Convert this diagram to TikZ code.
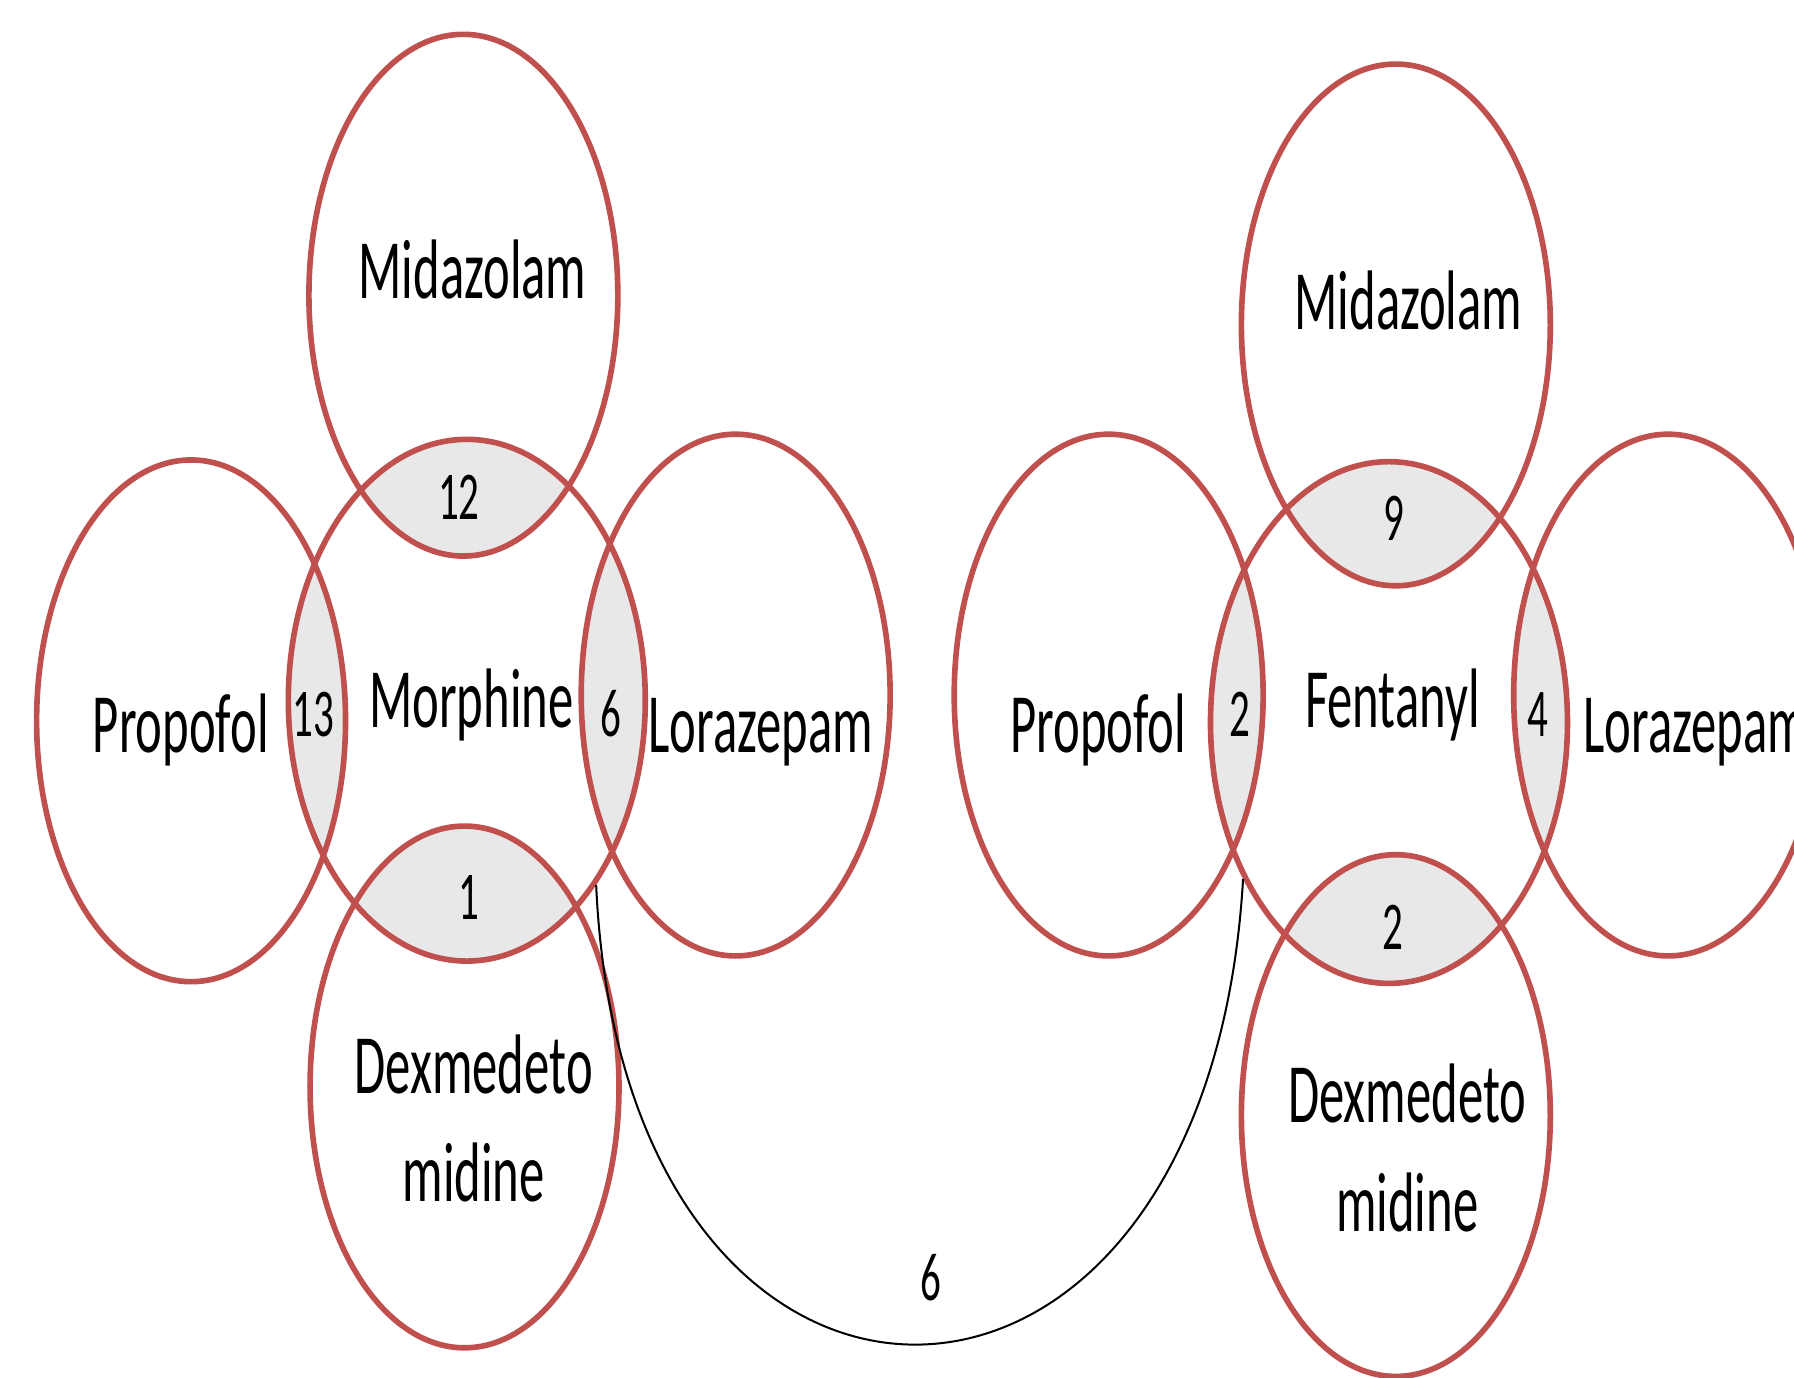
\documentclass[tikz,border=0pt]{standalone}
\usepackage{fontspec}
\setmainfont{Carlito}[FakeStretch=0.6]
\usetikzlibrary{shapes.geometric}
\definecolor{vennred}{RGB}{192,80,77}
\definecolor{lensgray}{RGB}{232,232,232}

\begin{document}
\begin{tikzpicture}[x=1mm,y=-1mm,
drug/.style={draw=vennred,line width=1.4pt,ellipse,inner sep=0pt,minimum width=27mm,minimum height=45.6mm},
hub/.style={drug,minimum width=31.2mm},
druglbl/.style={anchor=base,inner sep=0pt,align=center,font=\fontsize{21}{26.9}\selectfont},
countlbl/.style={anchor=base,inner sep=0pt,font=\fontsize{17}{20}\selectfont},
link/.style={draw=black,line width=0.5pt}]
\useasboundingbox (0,0) rectangle (156.8,120.4);

% centres of the sets
\coordinate (pMidL) at (40.5,25.8);
\coordinate (pMorL) at (40.8,61.2);
\coordinate (pProL) at (16.7,63.0);
\coordinate (pLorL) at (64.3,60.75);
\coordinate (pDexL) at (40.6,95.0);
\coordinate (pMidR) at (122.0,28.4);
\coordinate (pFenR) at (121.4,63.15);
\coordinate (pProR) at (96.9,60.75);
\coordinate (pLorR) at (145.8,60.75);
\coordinate (pDexR) at (122.0,97.5);

% shaded overlaps
\begin{scope}
\clip (pMorL) ellipse [x radius=15.6mm,y radius=22.8mm];
\foreach \p in {pMidL,pProL,pLorL,pDexL}
  \fill[lensgray] (\p) ellipse [x radius=13.5mm,y radius=22.8mm];
\end{scope}
\begin{scope}
\clip (pFenR) ellipse [x radius=15.6mm,y radius=22.8mm];
\foreach \p in {pMidR,pProR,pLorR,pDexR}
  \fill[lensgray] (\p) ellipse [x radius=13.5mm,y radius=22.8mm];
\end{scope}

% sets
\node[drug] (midL) at (pMidL) {};
\node[hub] (morL) at (pMorL) {};
\node[drug] (proL) at (pProL) {};
\node[drug] (lorL) at (pLorL) {};
\node[drug] (dexL) at (pDexL) {};
\node[drug] (midR) at (pMidR) {};
\node[hub] (fenR) at (pFenR) {};
\node[drug] (proR) at (pProR) {};
\node[drug] (lorR) at (pLorR) {};
\node[drug] (dexR) at (pDexR) {};

% names
\node[druglbl] (tMidL) at (41.3,26.1) {Midazolam};
\node[druglbl] (tMorL) at (41.2,63.6) {Morphine};
\node[druglbl] (tProL) at (15.8,65.8) {Propofol};
\node[druglbl] (tLorL) at (66.5,65.8) {Lorazepam};
\node[druglbl] (tDexL) at (41.4,105.0) {Dexmedeto\\midine};
\node[druglbl] (tMidR) at (123.1,28.8) {Midazolam};
\node[druglbl] (tFenR) at (121.7,63.6) {Fentanyl};
\node[druglbl] (tProR) at (96.0,65.8) {Propofol};
\node[druglbl] (tLorR) at (148.2,65.8) {Lorazepam};
\node[druglbl] (tDexR) at (123.0,107.6) {Dexmedeto\\midine};

% counts
\node[countlbl] (nMidL) at (40.1,45.4) {12};
\node[countlbl] (nProL) at (27.4,64.4) {13};
\node[countlbl] (nLorL) at (53.4,64.4) {6};
\node[countlbl] (nDexL) at (41.0,80.4) {1};
\node[countlbl] (nMidR) at (121.8,47.2) {9};
\node[countlbl] (nProR) at (108.4,64.4) {2};
\node[countlbl] (nLorR) at (134.4,64.4) {4};
\node[countlbl] (nDexR) at (121.7,83.0) {2};

\draw[link] (morL.-55.7) .. controls (54.5,131) and (105.5,131) .. (fenR.-133.9)
  node[countlbl,pos=0.5,above=3.7mm,xshift=1.3mm] (nLink) {6};
\end{tikzpicture}
\end{document}
